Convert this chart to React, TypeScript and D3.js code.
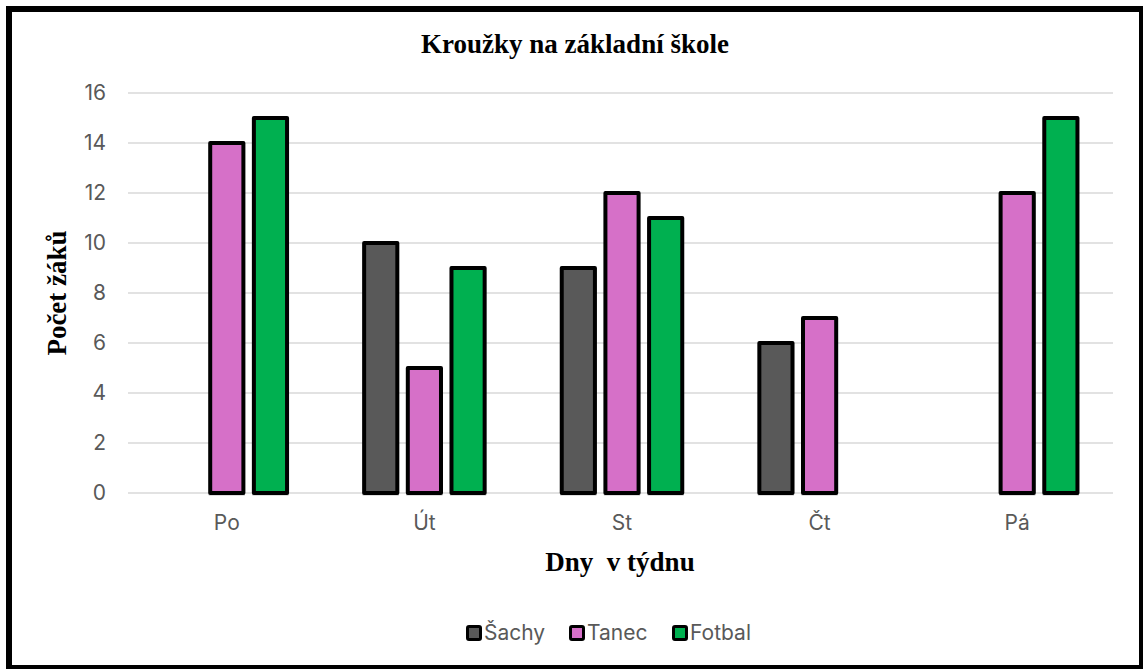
import React from "react";
import * as d3 from "d3";

const days = ["Po", "Út", "St", "Čt", "Pá"];
const seriesNames = ["Šachy", "Tanec", "Fotbal"];
const sachy = [0, 10, 9, 6, 0];
const tanec = [14, 5, 12, 7, 12];
const fotbal = [15, 9, 11, 0, 15];
const yTicks = [0, 2, 4, 6, 8, 10, 12, 14, 16];
const colors = ["#595959", "#D670C8", "#00B050"];

const W = 1143;
const H = 669;
const serif = "'Liberation Serif', 'Times New Roman', serif";
const sans = "Inter, 'Noto Sans', sans-serif";

export default function App() {
    const values = [sachy, tanec, fotbal];

    const x0 = d3.scaleBand<string>().domain(days).range([128, 1116]);
    const x1 = d3.scaleBand<string>()
        .domain(seriesNames)
        .range([-65.5, 65.5])
        .paddingInner(0.24)
        .paddingOuter(0.12);
    const y = d3.scaleLinear().domain([0, 16]).range([493, 93]);

    // legend layout
    const legendX = [466, 569, 672];

    return (
        <svg width={W} height={H} style={{ position: "fixed", left: 0, top: 0, background: "#fff" }}>
            <rect x={9} y={9} width={1133} height={659} fill="#fff" stroke="#000" strokeWidth={6} />

            <text x={575} y={53} textAnchor="middle" fontFamily={serif} fontWeight="bold" fontSize={27} fill="#000">
                Kroužky na základní škole
            </text>

            {/* gridlines + y ticks */}
            {yTicks.map(t => (
                <g key={t}>
                    <line x1={128} x2={1113} y1={y(t)} y2={y(t)} stroke="#d9d9d9" strokeWidth={1.5} />
                    <text x={106} y={y(t)} dy="0.35em" textAnchor="end" fontFamily={sans} fontSize={21} fill="#595959">
                        {t}
                    </text>
                </g>
            ))}

            {/* bars */}
            {days.map((d, i) => (
                <g key={d} transform={`translate(${x0(d)! + x0.bandwidth() / 2},0)`}>
                    {seriesNames.map((s, j) => {
                        const v = values[j][i];
                        if (!v) return null;
                        return (
                            <g key={s}>
                                <rect x={x1(s)! - 1.5} y={y(0)} width={x1.bandwidth() + 3} height={2.5} fill="#bfbfbf" />
                                <rect
                                    x={x1(s)}
                                    y={y(v)}
                                    width={x1.bandwidth()}
                                    height={y(0) - y(v)}
                                    fill={colors[j]}
                                    stroke="#000"
                                    strokeWidth={4}
                                    strokeLinejoin="round"
                                />
                            </g>
                        );
                    })}
                    <text y={523} dy="0.35em" textAnchor="middle" fontFamily={sans} fontSize={21} fill="#595959">
                        {d}
                    </text>
                </g>
            ))}

            <text
                transform={`translate(66,293) rotate(-90)`}
                textAnchor="middle"
                fontFamily={serif}
                fontWeight="bold"
                fontSize={27}
                fill="#000"
            >
                Počet žáků
            </text>

            <text x={620} y={571} textAnchor="middle" fontFamily={serif} fontWeight="bold" fontSize={27} fill="#000" style={{ whiteSpace: "pre" }}>
                {"Dny  v týdnu"}
            </text>

            {/* legend */}
            {seriesNames.map((s, j) => (
                <g key={s} transform={`translate(${legendX[j]},633)`}>
                    <rect x={1.5} y={-6.5} width={13} height={13} rx={1.5} fill={colors[j]} stroke="#000" strokeWidth={3} />
                    <text x={18} y={0} dy="0.35em" fontFamily={sans} fontSize={21} fill="#595959">
                        {s}
                    </text>
                </g>
            ))}
        </svg>
    );
}
